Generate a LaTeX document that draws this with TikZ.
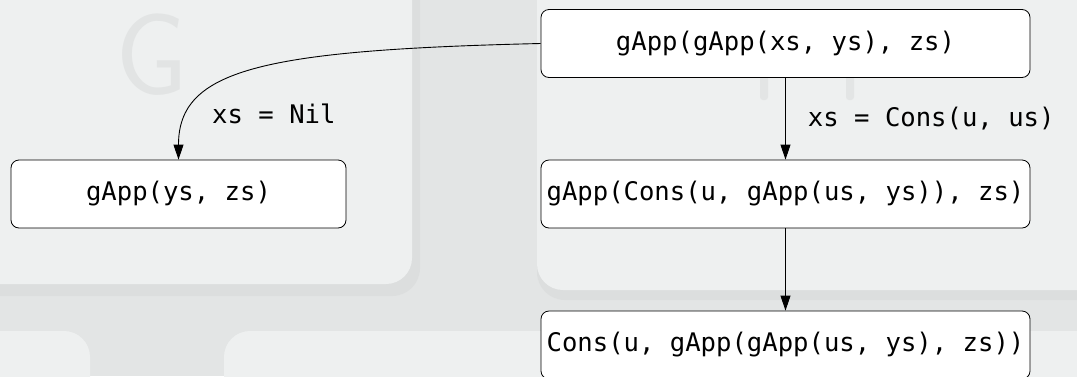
\documentclass[tikz,border=0pt]{standalone}
\usepackage{fontspec}
\setmonofont{DejaVu Sans Mono}
\usetikzlibrary{arrows.meta,positioning}
\definecolor{keyface}{RGB}{238,240,240}
\definecolor{keygap}{RGB}{227,229,229}
\definecolor{keyshade}{RGB}{220,222,222}
\definecolor{keyprint}{RGB}{226,228,228}
\tikzset{
  term/.style={draw, fill=white, rounded corners=8pt, line width=0.8pt,
    minimum height=68pt, inner sep=0pt,
    font=\ttfamily\fontsize{25.6}{30}\selectfont},
  cond/.style={inner sep=0pt, font=\ttfamily\fontsize{25.6}{30}\selectfont},
  step arrow/.style={-{Triangle[length=15pt,width=10pt]}, line width=0.9pt}
}
\begin{document}
\begin{tikzpicture}[x=1pt, y=-1pt]
  \useasboundingbox (0,0) rectangle (1077,376);
  \begin{scope}
    \clip (0,0) rectangle (1077,376);
    \fill[keygap] (0,0) rectangle (1077,376);
    \fill[keyshade, rounded corners=28pt] (-40,-40) rectangle (420,296);
    \fill[keyface, rounded corners=26pt] (-40,-40) rectangle (412,284);
    \fill[keyshade, rounded corners=28pt] (537,-40) rectangle (1120,300);
    \fill[keyface, rounded corners=26pt] (537,-40) rectangle (1120,290);
    \fill[keyface, rounded corners=26pt] (-40,331) rectangle (90,420);
    \fill[keyface, rounded corners=26pt] (224,331) rectangle (1120,420);
    \fill[keygap, rounded corners=3pt] (760,60) rectangle (768,100);
    \fill[keygap, rounded corners=3pt] (846,60) rectangle (854,100);
  \end{scope}
  \node[text=keyprint, inner sep=0pt,
    font=\sffamily\fontsize{116}{116}\selectfont] (letter) at (152,55) {G};

  \node[term, minimum width=489pt] (start) at (785.5,43.5) {gApp(gApp(xs, ys), zs)};
  \node[term, minimum width=335pt] (nil) at (178.5,194) {gApp(ys, zs)};
  \node[term, minimum width=489pt] (cons) at (785.5,194) {gApp(Cons(u, gApp(us, ys)), zs)};
  \node[term, minimum width=489pt] (result) at (785.5,345) {Cons(u, gApp(gApp(us, ys), zs))};

  \draw[step arrow] (start.west) .. controls (260,50) and (178.5,70) .. (nil.north);
  \node[cond, anchor=west] (nillabel) at (212,114) {xs = Nil};
  \draw[step arrow] (start) -- (cons) node[cond, midway, right=22pt] (conslabel) {xs = Cons(u, us)};
  \draw[step arrow] (cons) -- (result);
\end{tikzpicture}
\end{document}
